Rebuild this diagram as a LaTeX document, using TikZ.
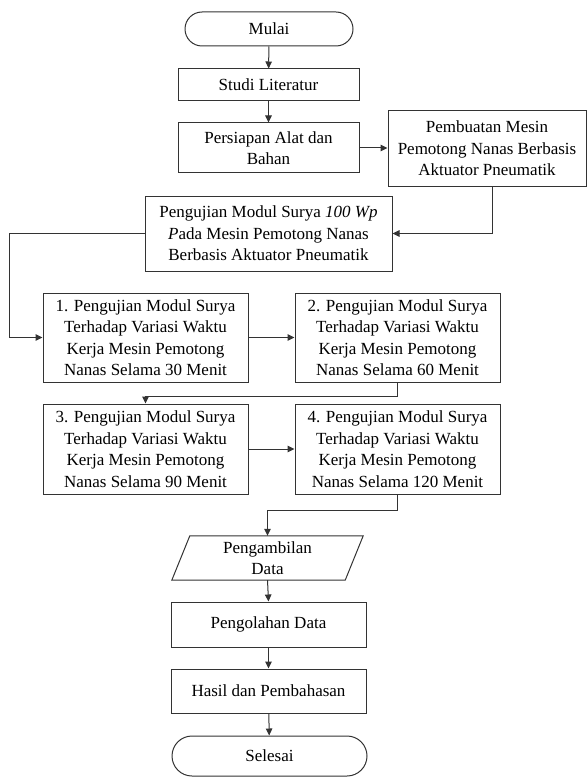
\documentclass[tikz,border=0pt]{standalone}
\usepackage{fontspec}
\setmainfont{Liberation Serif}
\usetikzlibrary{arrows.meta}
\begin{document}
\begin{tikzpicture}[x=1pt,y=-1pt,
  line/.style={draw=black!80, line width=1pt},
  box/.style={line, align=center, inner sep=2pt, font=\fontsize{17}{21.5}\selectfont},
  conn/.style={line, -{Triangle[length=7pt,width=6.5pt]}},
]
\useasboundingbox (0,0) rectangle (588,778);

\node[box, rounded corners=17pt, minimum width=168pt, minimum height=34pt] (mulai) at (269,29) {Mulai};
\node[box, minimum width=181pt, minimum height=32pt] (studi) at (268.5,85) {Studi Literatur};
\node[box, minimum width=181pt, minimum height=50pt] (persiapan) at (268.5,148) {Persiapan Alat dan\\Bahan};
\node[box, minimum width=198pt, minimum height=75pt] (pembuatan) at (487,148.5) {Pembuatan Mesin\\Pemotong Nanas Berbasis\\Aktuator Pneumatik};
\node[box, minimum width=247pt, minimum height=75pt] (uji) at (268.5,233.5) {Pengujian Modul Surya \textit{100 Wp}\\\textit{P}ada Mesin Pemotong Nanas\\Berbasis Aktuator Pneumatik};

\node[box, minimum width=205pt, minimum height=89pt] (b1) at (145.5,337.5) {1. Pengujian Modul Surya\\Terhadap Variasi Waktu\\Kerja Mesin Pemotong\\Nanas Selama 30 Menit};
\node[box, minimum width=205pt, minimum height=89pt] (b2) at (397.5,337.5) {2. Pengujian Modul Surya\\Terhadap Variasi Waktu\\Kerja Mesin Pemotong\\Nanas Selama 60 Menit};
\node[box, minimum width=205pt, minimum height=90pt] (b3) at (145.5,449) {3. Pengujian Modul Surya\\Terhadap Variasi Waktu\\Kerja Mesin Pemotong\\Nanas Selama 90 Menit};
\node[box, minimum width=205pt, minimum height=90pt] (b4) at (397.5,449) {4. Pengujian Modul Surya\\Terhadap Variasi Waktu\\Kerja Mesin Pemotong\\Nanas Selama 120 Menit};

\node[align=center, inner sep=0pt, minimum width=191pt, minimum height=44pt, font=\fontsize{17}{21.5}\selectfont] (data) at (267.5,558) {Pengambilan\\Data};
\draw[line] ([xshift=18pt]data.north west) -- (data.north east) -- ([xshift=-18pt]data.south east) -- (data.south west) -- cycle;

\node[box, minimum width=195pt, minimum height=45pt] (olah) at (268.5,624.5) {Pengolahan Data};
\node[box, minimum width=195pt, minimum height=44pt] (hasil) at (268.5,691) {Hasil dan Pembahasan};
\node[box, rounded corners=20pt, minimum width=195pt, minimum height=40pt] (selesai) at (269.5,756) {Selesai};

\draw[conn] (mulai) -- (studi);
\draw[conn] (studi) -- (persiapan);
\draw[conn] (persiapan.east) -- (persiapan.east -| pembuatan.west);
\draw[conn] ([xshift=5pt]pembuatan.south) |- (uji.east);
\draw[conn] (uji.west) -- ++(-135,0) |- (b1.west);
\draw[conn] (b1) -- (b2);
\draw[conn] (b2.south) -- ++(0,14) -| (b3.north);
\draw[conn] (b3) -- (b4);
\draw[conn] (b4.south) -- ++(0,16) -| (data.north);
\draw[conn] (data.south) -- (olah.north);
\draw[conn] (olah) -- (hasil);
\draw[conn] (hasil) -- (selesai);
\end{tikzpicture}
\end{document}
